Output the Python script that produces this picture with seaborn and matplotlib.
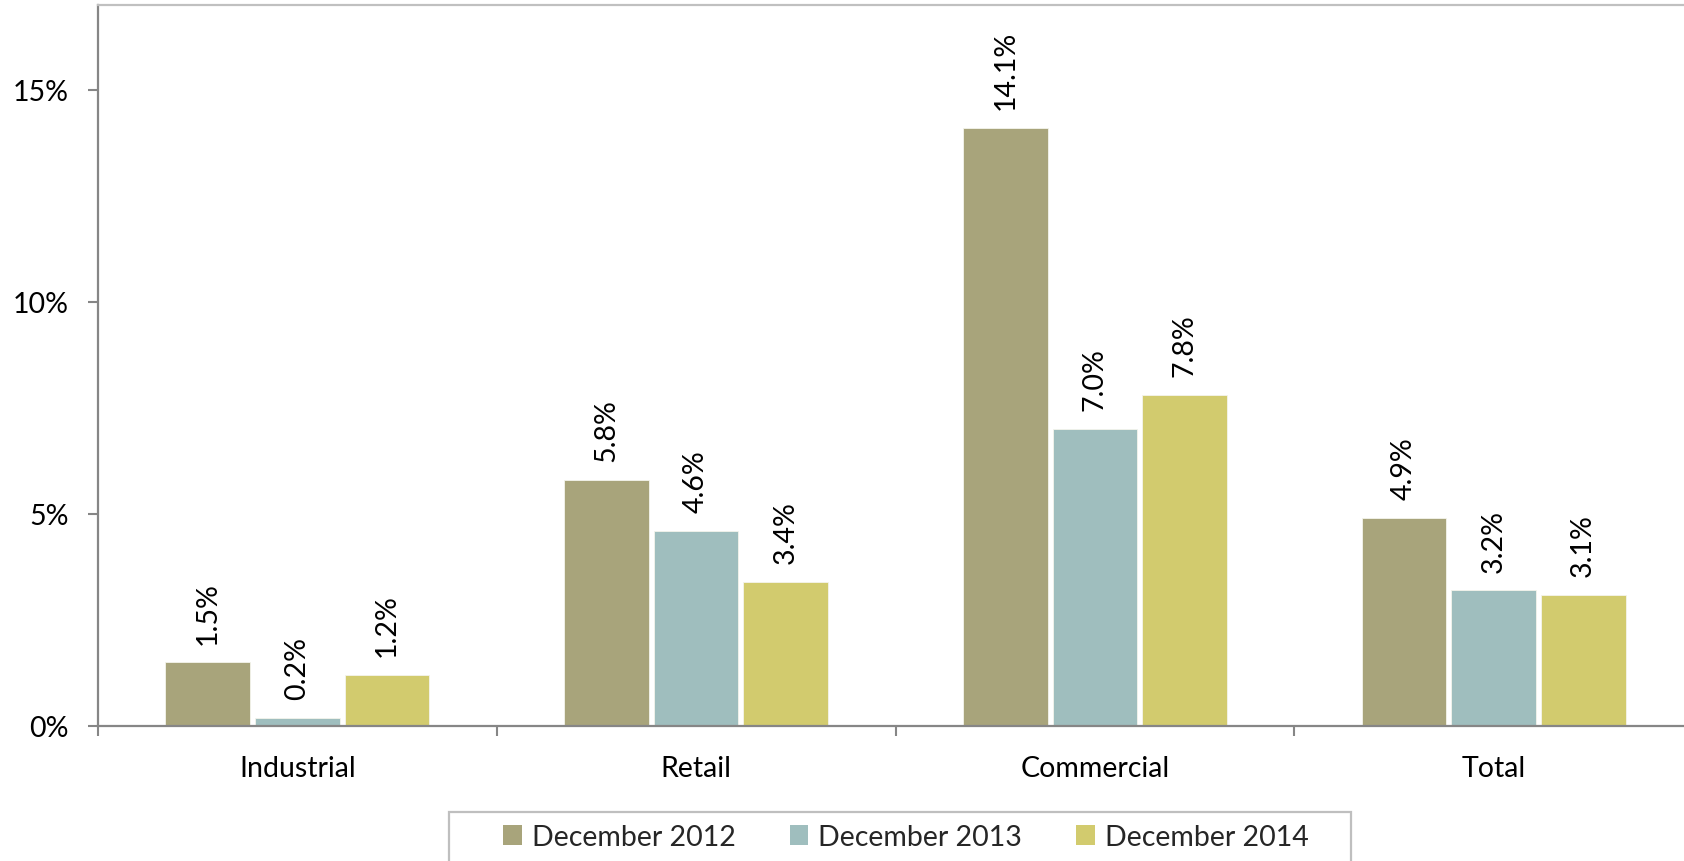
import matplotlib
matplotlib.use("Agg")
import matplotlib.pyplot as plt
import seaborn as sns
import pandas as pd
from matplotlib.ticker import FuncFormatter, FixedLocator
from matplotlib.patches import Patch, Rectangle

# Vacancy rates by property type
categories = ["Industrial", "Retail", "Commercial", "Total"]
periods = ["December 2012", "December 2013", "December 2014"]
dec_2012 = [1.5, 5.8, 14.1, 4.9]
dec_2013 = [0.2, 4.6, 7.0, 3.2]
dec_2014 = [1.2, 3.4, 7.8, 3.1]
colors = ["#A8A47B", "#9FBEBE", "#D2CB6E"]
y_ticks = [0, 5, 10, 15]

rows = []
for period, series in zip(periods, [dec_2012, dec_2013, dec_2014]):
    for cat, val in zip(categories, series):
        rows.append({"category": cat, "period": period, "value": val})
df = pd.DataFrame(rows)

sns.set_style("white")
plt.rcParams["font.family"] = ["Lato", "DejaVu Sans"]
FS = 20.5

fig = plt.figure(figsize=(16.84, 8.62), dpi=100)
ax = fig.add_axes([98 / 1684, 135 / 862, 1595 / 1684, 721 / 862])

sns.barplot(data=df, x="category", y="value", hue="period", order=categories,
            hue_order=periods, palette=colors, width=0.674, gap=0.055,
            edgecolor="#F4F4EC", linewidth=0.6, saturation=1, ax=ax, legend=False)

for cont in ax.containers:
    vals = [b.get_height() for b in cont]
    ax.bar_label(cont, labels=[f"{v:.1f}%" for v in vals], rotation=90,
                 padding=13.5, fontsize=FS, color="black")

ax.set_xlim(-0.5, 3.5)
ax.set_ylim(0, 17)
ax.set_yticks(y_ticks)
ax.yaxis.set_major_formatter(FuncFormatter(lambda v, _: f"{v:.0f}%"))
ax.tick_params(axis="y", length=7, width=1.5, color="#868686", pad=14,
               labelsize=FS, labelcolor="black", left=True)
ax.tick_params(axis="x", which="major", length=0, pad=21, labelsize=FS,
               labelcolor="black")
ax.xaxis.set_minor_locator(FixedLocator([-0.5, 0.5, 1.5, 2.5, 3.5]))
ax.tick_params(axis="x", which="minor", length=7, width=1.5, color="#868686",
               bottom=True)
ax.set_xlabel("")
ax.set_ylabel("")

for side in ["left", "bottom"]:
    ax.spines[side].set_color("#868686")
    ax.spines[side].set_linewidth(1.6)
ax.spines["top"].set_color("#C0C0C0")
ax.spines["top"].set_linewidth(1.6)
ax.spines["right"].set_visible(False)

# Legend entries, with a frame that runs off the bottom edge
handles = [Patch(facecolor=c, edgecolor="none") for c in colors]
fig.legend(handles, periods, loc="center", ncol=3,
           bbox_to_anchor=(906 / 1684, 1 - 838 / 862), fontsize=FS,
           frameon=False, handlelength=0.65, handleheight=0.65,
           handletextpad=0.35, columnspacing=1.9, borderpad=0, borderaxespad=0)
fig.add_artist(Rectangle((449 / 1684, -0.05), 902 / 1684, 49 / 862 + 0.05,
                         transform=fig.transFigure, fill=False,
                         edgecolor="#BFBFBF", linewidth=1.6))

fig.savefig("out.png", dpi=100)
